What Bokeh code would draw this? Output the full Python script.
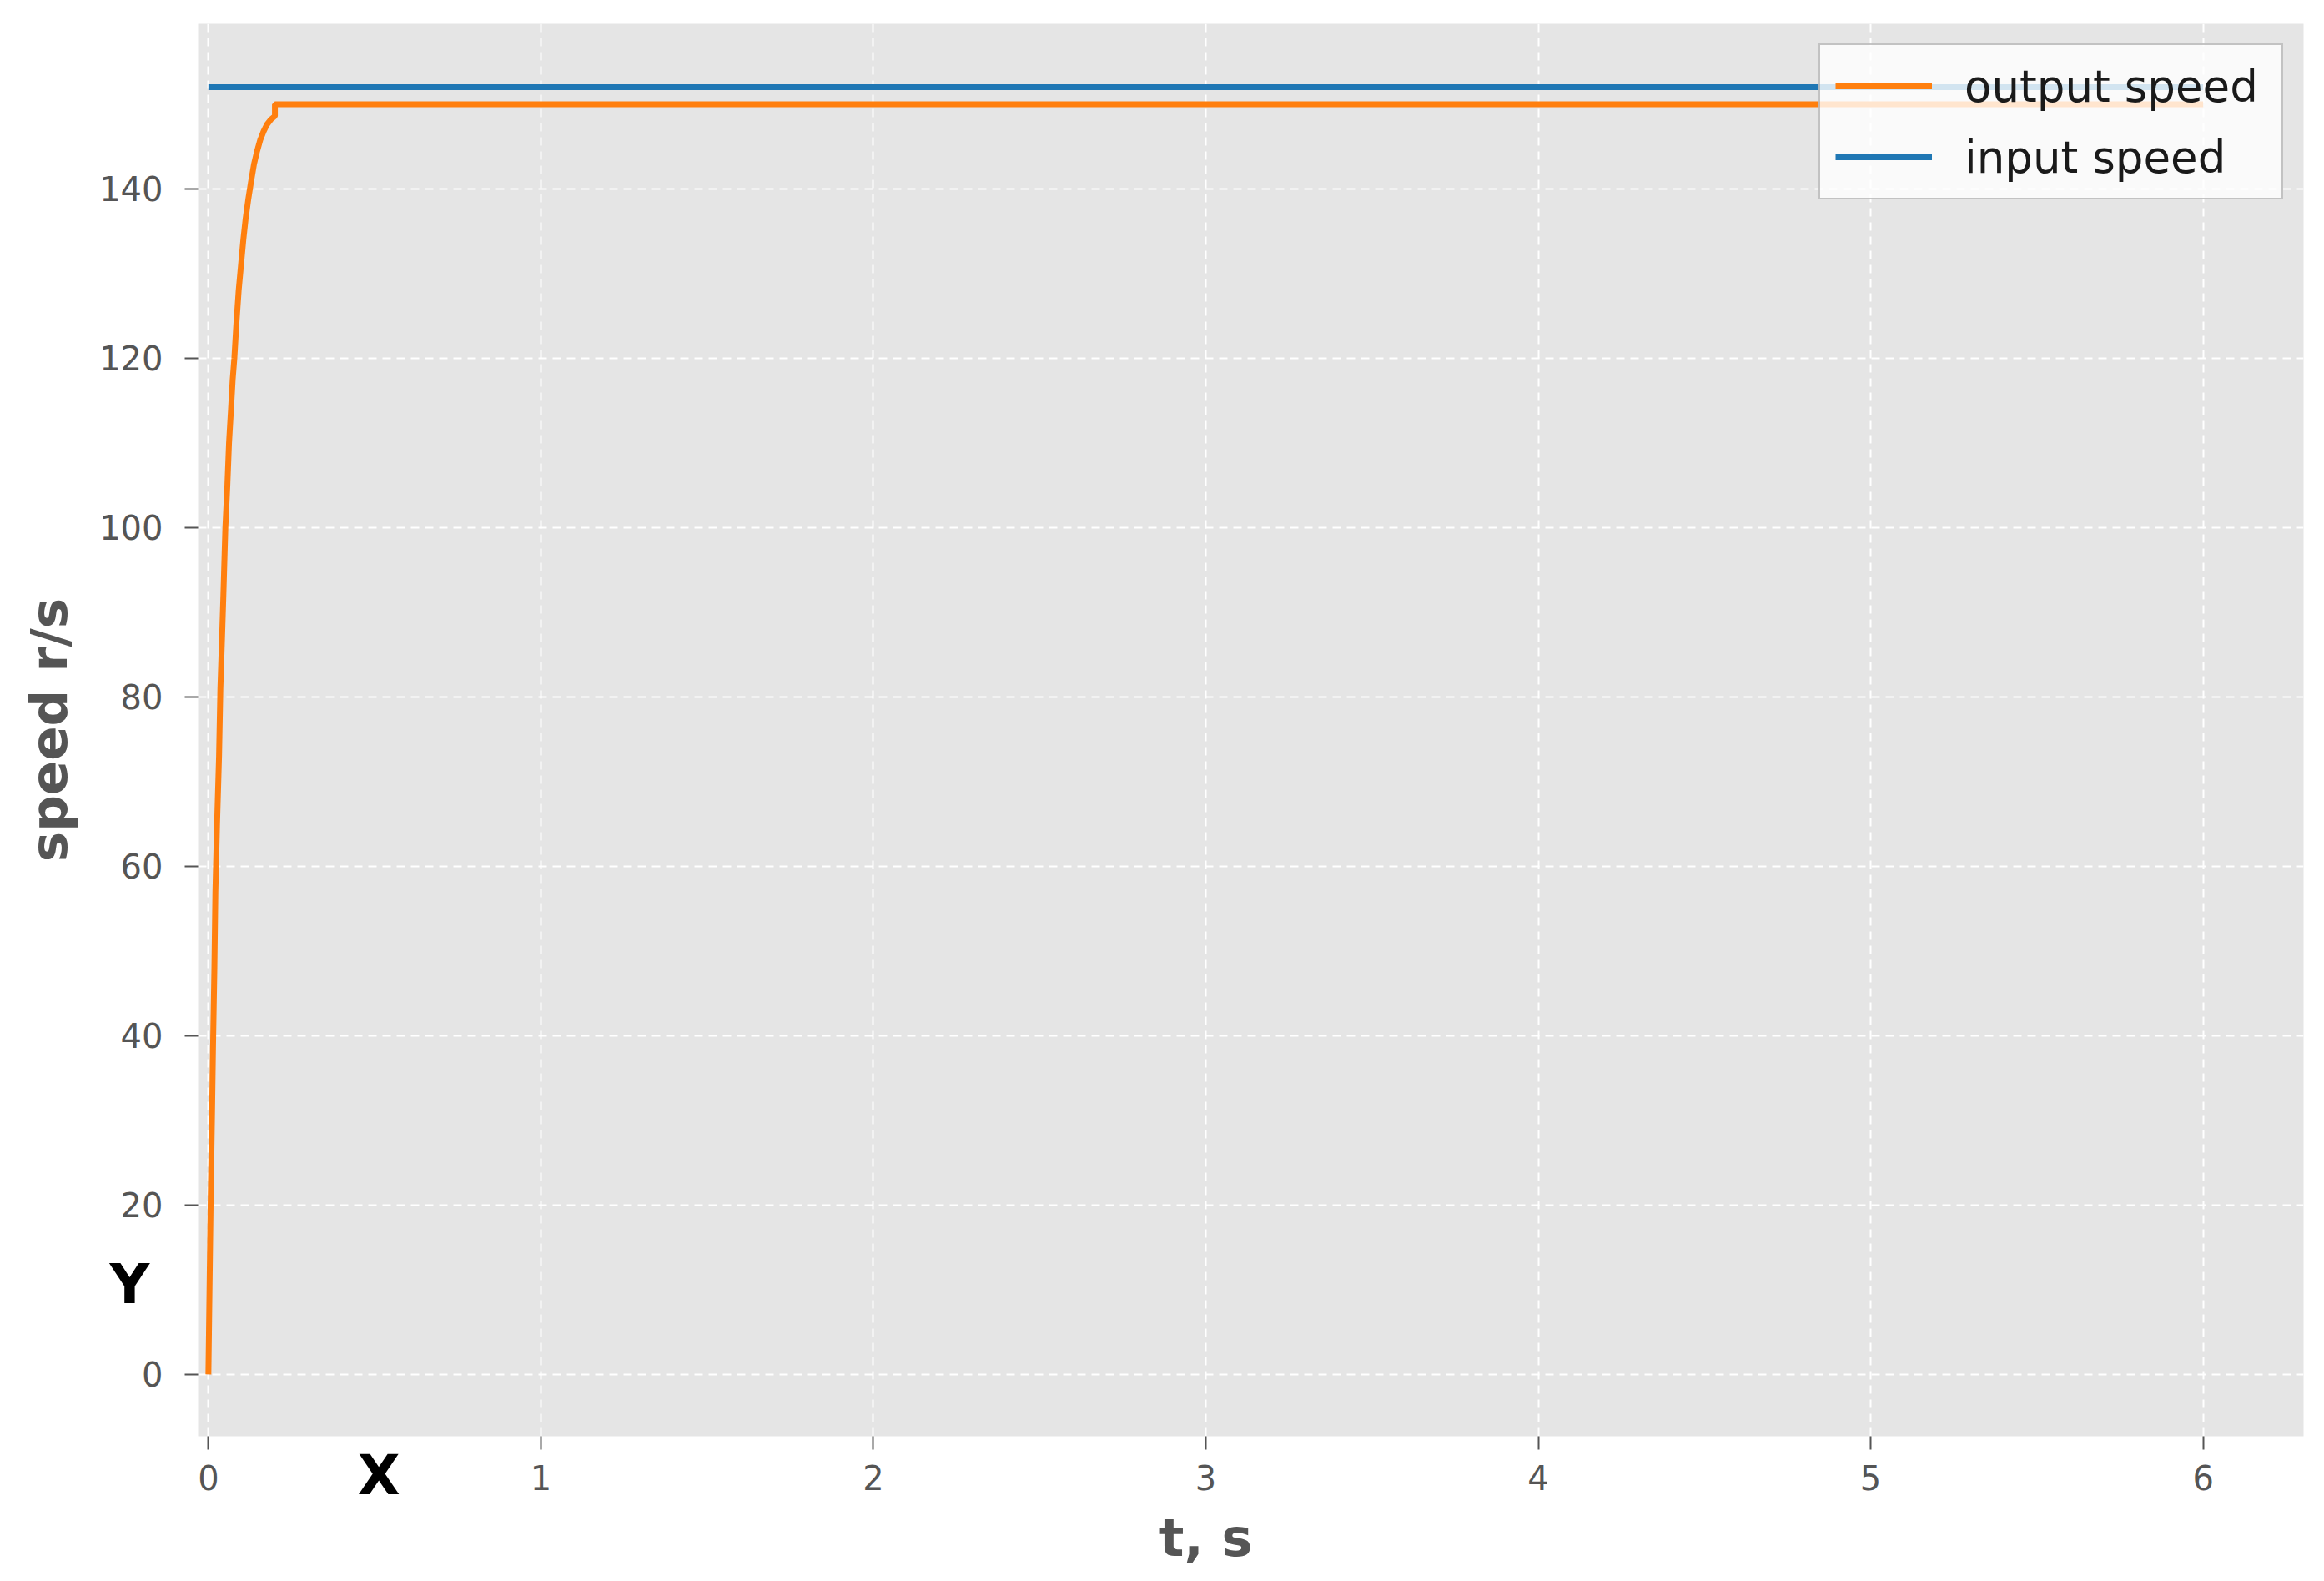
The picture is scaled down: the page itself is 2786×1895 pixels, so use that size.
from bokeh.plotting import figure
from bokeh.models import Range1d, Label, Legend, LegendItem, FixedTicker
from bokeh.embed import file_html
from bokeh.resources import INLINE

# ---- data ----
t_out = [0, 0.002, 0.004, 0.007, 0.011, 0.014, 0.018, 0.021, 0.026, 0.032, 0.036,
         0.041, 0.045, 0.051, 0.057, 0.062, 0.068, 0.073, 0.078, 0.084, 0.091,
         0.098, 0.105, 0.112, 0.120, 0.128, 0.137, 0.146, 0.156, 0.166, 0.176,
         0.188, 0.200, 0.200, 6.0]
v_out = [0, 6, 12, 21, 31, 39, 48, 57, 65, 73, 81,
         87, 92, 100, 105, 110, 114, 117.5, 120, 124, 128,
         131, 134, 136.5, 138.8, 140.8, 142.9, 144.4, 145.8, 146.8, 147.6,
         148.2, 148.6, 150, 150]
t_in = [0, 6.0]
v_in = [152, 152]

x_ticks = [0, 1, 2, 3, 4, 5, 6]
y_ticks = [0, 20, 40, 60, 80, 100, 120, 140]

FONT = "DejaVu Sans"
TXT = "#555555"

p = figure(frame_width=2524, frame_height=1693, output_backend="svg",
           toolbar_location=None,
           x_range=Range1d(-0.031, 6.302), y_range=Range1d(-7.3, 159.5),
           min_border_left=238, min_border_right=18, min_border_top=28,
           min_border_bottom=166)
p.background_fill_color = "#E5E5E5"
p.border_fill_color = "white"
p.outline_line_color = None
# side-panel labels enlarge the borders; pull the canvas back so the frame
# sits where the reference's does
p.styles = {"margin-left": "-28px", "margin-top": "-49px"}

r_in = p.line(t_in, v_in, line_color="#1F77B4", line_width=7)
r_out = p.line(t_out, v_out, line_color="#FF7F0E", line_width=7)

for g in (p.xgrid, p.ygrid):
    g.grid_line_color = "white"
    g.grid_line_dash = "10 7"
    g.grid_line_width = 2

p.xaxis.ticker = FixedTicker(ticks=x_ticks)
p.yaxis.ticker = FixedTicker(ticks=y_ticks)

for ax in (p.xaxis, p.yaxis):
    ax.axis_line_color = None
    ax.minor_tick_line_color = None
    ax.major_tick_in = 0
    ax.major_tick_out = 16
    ax.major_tick_line_color = TXT
    ax.major_tick_line_width = 2
    ax.major_label_text_font = FONT
    ax.major_label_text_font_size = "40px"
    ax.major_label_text_color = TXT
p.xaxis.major_label_standoff = 18
p.yaxis.major_label_standoff = 26

p.yaxis.axis_label = "speed r/s"
p.yaxis.axis_label_text_font = FONT
p.yaxis.axis_label_text_font_size = "61px"
p.yaxis.axis_label_text_font_style = "bold"
p.yaxis.axis_label_text_color = TXT
p.yaxis.axis_label_standoff = 22

p.add_layout(Label(x=3, y=-19.3, text="t, s", text_font=FONT,
                   text_font_size="62px", text_font_style="bold",
                   text_color=TXT, text_align="center", text_baseline="middle"),
             "below")
p.add_layout(Label(x=0.513, y=-11.9, text="X", text_font=FONT,
                   text_font_size="66px", text_font_style="bold",
                   text_color="black", text_align="center", text_baseline="middle"),
             "above")
p.add_layout(Label(x=-0.237, y=10.6, text="Y", text_font=FONT,
                   text_font_size="66px", text_font_style="bold",
                   text_color="black", text_align="center", text_baseline="middle"),
             "left")

legend = Legend(items=[LegendItem(label="output speed", renderers=[r_out]),
                       LegendItem(label="input speed", renderers=[r_in])],
                location="top_right")
legend.label_text_font = FONT
legend.label_text_font_size = "53px"
legend.label_text_color = "#1a1a1a"
legend.glyph_width = 116
legend.glyph_height = 30
legend.label_height = 62
legend.label_width = 362
legend.label_standoff = 39
legend.spacing = 23
legend.padding = 18
legend.margin = 24
legend.border_line_color = "#8a8a8a"
legend.border_line_width = 2
legend.background_fill_color = "white"
legend.background_fill_alpha = 0.8
p.add_layout(legend)

open("out.html", "w").write(file_html(p, INLINE))
